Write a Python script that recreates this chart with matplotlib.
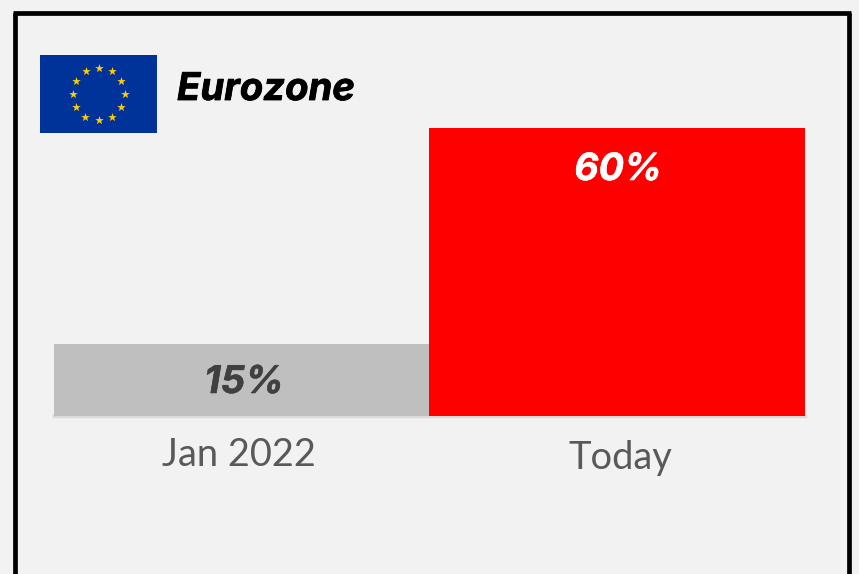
import numpy as np
import matplotlib
matplotlib.use('Agg')
import matplotlib.pyplot as plt
import matplotlib.patheffects as pe
from matplotlib.patches import Rectangle

W, H = 859, 574

categories = ['Jan 2022', 'Today']
values = [15, 60]
value_labels = ['15%', '60%']
title = 'Eurozone'

BG = '#f2f2f2'
plt.rcParams['font.family'] = ['Lato', 'DejaVu Sans']
HEAVY = ['Inter', 'DejaVu Sans']


def px_axes(fig, left, top, right, bottom):
    return fig.add_axes([left / W, 1 - bottom / H, (right - left) / W, (bottom - top) / H])


def thicken(color, width=0.4):
    return [pe.withStroke(linewidth=width, foreground=color)]


fig = plt.figure(figsize=(W / 100, H / 100), dpi=100, facecolor=BG)

# black frame, runs off the bottom edge
for x0, y0, x1, y1 in [(15, 574, 15, 12.5), (13, 12.5, 851, 12.5), (848.5, 12.5, 848.5, 574)]:
    fig.add_artist(plt.Line2D([x0 / W, x1 / W], [1 - y0 / H, 1 - y1 / H], color='black', lw=3.4,
                              solid_capstyle='butt'))

# bars
ax = px_axes(fig, 53.6, 128, 805, 416)
ax.set_facecolor('none')
ax.set_axisbelow(True)
ax.bar([0, 1], values, width=1.0, color=['#bfbfbf', '#ff0000'], linewidth=0, zorder=3)
ax.set_xlim(-0.5, 1.5)
ax.set_ylim(0, 60)
ax.set_xticks([])
ax.set_yticks([])
for s in ['top', 'left', 'right', 'bottom']:
    ax.spines[s].set_visible(False)
ax.axhline(0, color='#d9d9d9', lw=2.5, zorder=1, clip_on=False)

ax.annotate(value_labels[0], (0, values[0]), xytext=(2.5, -39), textcoords='offset pixels',
            ha='center', va='center', fontsize=27.5, fontweight='bold', fontstyle='italic',
            color='#404040', family=HEAVY, zorder=4, path_effects=thicken('#404040'))
ax.annotate(value_labels[1], (1, values[1]), xytext=(1, -42), textcoords='offset pixels',
            ha='center', va='center', fontsize=27, fontweight='bold', fontstyle='italic',
            color='white', family=HEAVY, zorder=4, path_effects=thicken('white'))

ax.annotate(categories[0], (0, 0), xytext=(-2.5, -39.5), textcoords='offset pixels',
            ha='center', va='center', fontsize=27.4, color='#595959', annotation_clip=False)
ax.annotate(categories[1], (1, 0), xytext=(3, -42.5), textcoords='offset pixels',
            ha='center', va='center', fontsize=27.4, color='#595959', annotation_clip=False)

# flag
fl = px_axes(fig, 40, 55, 157, 133)
fl.set_xlim(40, 157)
fl.set_ylim(133, 55)
fl.axis('off')
fl.add_patch(Rectangle((40, 55), 117, 78, facecolor='#003399', edgecolor='none'))
ang = np.arange(12) * np.pi / 6
fl.scatter(98.5 + 26 * np.cos(ang), 94 - 26 * np.sin(ang), marker='*', s=42, color='#ffcc00', linewidths=0)

fig.text(177 / W, 1 - 90 / H, title, ha='left', va='center', fontsize=27.5, fontweight='bold',
         fontstyle='italic', color='black', family=HEAVY, path_effects=thicken('black', 0.6))

fig.savefig('out.png', dpi=100, facecolor=BG)
